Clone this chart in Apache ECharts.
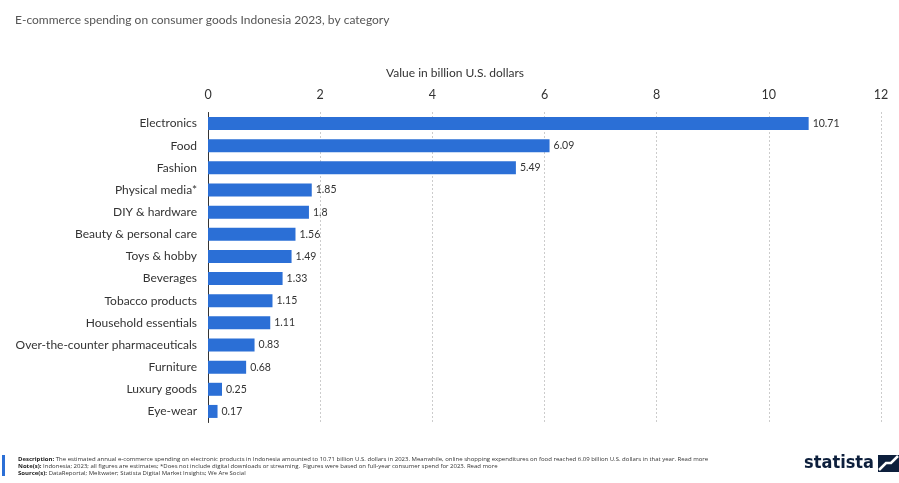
<!DOCTYPE html>
<html>
<head>
<meta charset="utf-8">
<script src="https://cdn.jsdelivr.net/npm/echarts@6/dist/echarts.min.js"></script>
<style>
html,body{margin:0;padding:0;background:#fff;}
#c{width:899px;height:483px;}
</style>
</head>
<body>
<div id="c"></div>
<script>
const categories = ["Electronics","Food","Fashion","Physical media*","DIY & hardware","Beauty & personal care","Toys & hobby","Beverages","Tobacco products","Household essentials","Over-the-counter pharmaceuticals","Furniture","Luxury goods","Eye-wear"];
const values = [10.71,6.09,5.49,1.85,1.8,1.56,1.49,1.33,1.15,1.11,0.83,0.68,0.25,0.17];
const xTicks = [0,2,4,6,8,10,12];

const chart = echarts.init(document.getElementById('c'), null, {renderer:'canvas'});
const F = 'Lato, "Open Sans", sans-serif';
const FS = '"Open Sans", sans-serif';
chart.setOption({
  animation:false,
  backgroundColor:'#fff',
  title:{
    text:'E-commerce spending on consumer goods Indonesia 2023, by category',
    left:10, top:9,
    textStyle:{fontFamily:F, fontSize:12, fontWeight:'normal', color:'#555'}
  },
  grid:{left:208, right:18, top:112.5, bottom:60.5, containLabel:false},
  xAxis:{
    type:'value', position:'top', min:0, max:12, interval:2,
    axisLine:{show:false}, axisTick:{show:false},
    axisLabel:{fontFamily:F, fontSize:12.5, color:'#333', margin:11,
      formatter:(v)=> xTicks.includes(v) ? String(v) : ''},
    splitLine:{show:true, lineStyle:{type:[1,3], color:'#999', width:1}}
  },
  yAxis:{
    type:'category', data:categories, inverse:true,
    axisLine:{show:true, lineStyle:{color:'#333', width:1}},
    axisTick:{show:false},
    axisLabel:{fontFamily:F, fontSize:12, color:'#333', margin:11}
  },
  series:[{
    type:'bar', data:values, barWidth:13,
    itemStyle:{color:'#2b6fd6'},
    label:{show:true, position:'right', distance:4, fontFamily:F, fontSize:10.5, color:'#333'}
  }],
  graphic:[
    {type:'text', x:455, y:73, style:{text:'Value in billion U.S. dollars', font:'12px '+F, fill:'#333', textAlign:'center', textVerticalAlign:'middle'}},
    {type:'rect', shape:{x:2,y:455,width:3,height:21}, style:{fill:'#2b6fd6'}},
    {type:'text', left:18, top:456, style:{text:'{b|Description:} The estimated annual e-commerce spending on electronic products in Indonesia amounted to 10.71 billion U.S. dollars in 2023. Meanwhile, online shopping expenditures on food reached 6.09 billion U.S. dollars in that year. {u|Read more}', font:'6px '+FS, fill:'#333', rich:{b:{font:'bold 6px '+FS, fill:'#222'}, u:{font:'6px '+FS, fill:'#333', textDecoration:'underline'}}}},
    {type:'text', left:18, top:463, style:{text:'{b|Note(s):} Indonesia; 2023; all figures are estimates; *Does not include digital downloads or streaming.  Figures were based on full-year consumer spend for 2023. {u|Read more}', font:'6px '+FS, fill:'#333', rich:{b:{font:'bold 6px '+FS, fill:'#222'}, u:{font:'6px '+FS, fill:'#333'}}}},
    {type:'text', left:18, top:470, style:{text:'{b|Source(s):} DataReportal; Meltwater; Statista Digital Market Insights; We Are Social', font:'6px '+FS, fill:'#333', rich:{b:{font:'bold 6px '+FS, fill:'#222'}}}},
    {type:'text', x:874, y:463, style:{text:'statista', font:'bold 18px "Liberation Sans Narrow", "DejaVu Sans Condensed", sans-serif', fill:'#0d1f3c', textAlign:'right', textVerticalAlign:'middle'}},
    {type:'rect', shape:{x:878,y:455,width:21,height:17}, style:{fill:'#0d1f3c'}},
    {type:'polyline', shape:{points:[[879,470],[886,463],[891,463],[898,456]]}, style:{stroke:'#fff', lineWidth:2.5, fill:null}}
  ]
});
</script>
</body>
</html>
